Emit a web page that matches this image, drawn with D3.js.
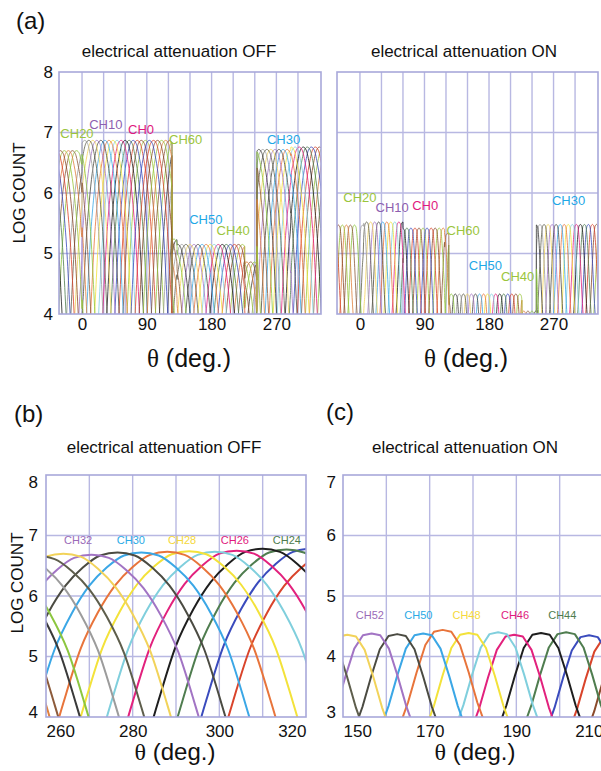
<!DOCTYPE html>
<html>
<head>
<meta charset="utf-8">
<script src="https://cdn.jsdelivr.net/npm/d3@7"></script>
<style>
  body { margin: 0; background: #fff; }
  svg text { font-family: "Liberation Sans", Arial, Helvetica, sans-serif; fill: #111; }
  .grid line { stroke: #b8b8e2; stroke-width: 1.4; }
  .frame { fill: none; stroke: #a8a8da; stroke-width: 1.6; }
</style>
</head>
<body>
<div id="chart"></div>
<script>
// ---------- data ----------
const palette = ['#9bc53d', '#8b4a2b', '#d9442b', '#3a4bbd', '#4f7d4f', '#1e1e1e', '#e2217d', '#80cfdd',
  '#f3e23a', '#e8743b', '#3ba7e6', '#4b4b42', '#a274c4', '#f2d35a', '#5e5e4c', '#9c9c9c',
  '#3a3a3a', '#8cc63f', '#8d5b3b', '#e0803c'];

// panel (a): all channels, theta of peak (CH16 missing)
const aChannels = [0, 1, 2, 3, 4, 5, 6, 7, 8, 9, 10, 11, 12, 13, 14, 15, 17, 18, 19, 20, 21, 22, 23, 24,
  25, 26, 27, 28, 29, 30, 31, 32, 33, 34, 35, 36, 37, 38, 39, 40, 41, 42, 43, 44, 45, 46, 47, 48, 49,
  50, 51, 52, 53, 54, 55, 56, 57, 58, 59, 60, 61, 62, 63];
const aChannelTheta = [88, 82.4, 76.8, 71.1, 65.5, 59.9, 54.3, 48.6, 43, 37.4, 31.8, 26.1, 20.5, 14.9,
  9.3, 3.6, -7.6, -13.3, -18.9, -24.5, -30.1, 324.2, 318.6, 313, 307.4, 301.8, 296.1, 290.5, 284.9,
  279.3, 273.6, 268, 262.4, 256.8, 251.1, 245.5, 239.9, 234.3, 228.6, 223, 217.4, 211.8, 206.1, 200.5,
  194.9, 189.3, 183.6, 178, 172.4, 166.8, 161.1, 155.5, 149.9, 144.3, 138.6, 133, 127.4, 121.8, 116.1,
  110.5, 104.9, 99.3, 93.6];

// peak level seen at each theta range
const offLevelStart = [-40, 0, 125, 132, 226, 243, 290];
const offLevelValue = [6.70, 6.87, 5.24, 5.15, 4.86, 6.72, 6.76];
const onLevelStart = [-40, 5, 60, 118, 124, 226, 246];
const onLevelValue = [5.47, 5.52, 5.42, 5.33, 4.33, 4.05, 5.48];

// fall of a channel response below its peak vs distance from peak (deg)
const offProfileOffset = [0, 4, 8, 12, 16, 20, 24, 28, 32];
const offProfileDrop = [0, 0.05, 0.25, 0.55, 1.0, 1.6, 2.5, 3.5, 4.6];
const onProfileOffset = [0, 2, 4, 6, 8, 10, 12, 14];
const onProfileDrop = [0, 0.03, 0.25, 0.7, 1.2, 1.6, 2.0, 2.4];

const aThetaTicks = [0, 90, 180, 270];
const aThetaGrid = [0, 30, 60, 90, 120, 150, 180, 210, 240, 270, 300];
const aLogTicks = [4, 5, 6, 7, 8];
const aLogGrid = [5, 6, 7];

const aOffLabels = [
  {ch: 'CH20', theta: -7, v: 6.96, color: '#9bc53d'},
  {ch: 'CH10', theta: 33, v: 7.12, color: '#8e5fb0'},
  {ch: 'CH0', theta: 82, v: 7.04, color: '#e0197d'},
  {ch: 'CH60', theta: 144, v: 6.86, color: '#9bc53d'},
  {ch: 'CH50', theta: 172, v: 5.54, color: '#1fa8e6'},
  {ch: 'CH40', theta: 210, v: 5.36, color: '#9bc53d'},
  {ch: 'CH30', theta: 280, v: 6.86, color: '#1fa8e6'}
];
const aOnLabels = [
  {ch: 'CH20', theta: 0, v: 5.90, color: '#9bc53d'},
  {ch: 'CH10', theta: 45, v: 5.75, color: '#8e5fb0'},
  {ch: 'CH0', theta: 91, v: 5.77, color: '#e0197d'},
  {ch: 'CH60', theta: 144, v: 5.36, color: '#9bc53d'},
  {ch: 'CH50', theta: 175, v: 4.79, color: '#1fa8e6'},
  {ch: 'CH40', theta: 220, v: 4.61, color: '#9bc53d'},
  {ch: 'CH30', theta: 291, v: 5.86, color: '#1fa8e6'}
];

// panel (b): OFF, zoom 260-320
const bChannels = [22, 23, 24, 25, 26, 27, 28, 29, 30, 31, 32, 33, 34, 35, 36, 37, 38, 39];
const bTheta = [327, 321, 315.5, 310, 304, 299, 293, 288, 282, 276.5, 270.5, 264, 258, 252, 243, 245, 238, 236];
const bPeak = [6.72, 6.78, 6.77, 6.78, 6.75, 6.73, 6.74, 6.73, 6.72, 6.72, 6.68, 6.70, 6.66, 6.70, 6.70, 6.70, 6.70, 6.70];
const bThetaTicks = [260, 280, 300, 320];
const bThetaGrid = [270, 280, 290, 300, 310];
const bLogTicks = [4, 5, 6, 7, 8];
const bLogGrid = [5, 6, 7];
const bLabels = [
  {ch: 'CH32', theta: 267.4, v: 6.9, color: '#9a6ab8'},
  {ch: 'CH30', theta: 279.6, v: 6.9, color: '#2aaae6'},
  {ch: 'CH28', theta: 291.4, v: 6.9, color: '#f5d83a'},
  {ch: 'CH26', theta: 303.6, v: 6.9, color: '#e0197d'},
  {ch: 'CH24', theta: 315.6, v: 6.9, color: '#4e7c4e'}
];

// panel (c): ON, zoom 150-210
const cChannels = [41, 42, 43, 44, 45, 46, 47, 48, 49, 50, 51, 52, 53, 54];
const cTheta = [216, 212, 206.8, 201.5, 195.7, 189.5, 185.8, 179, 173, 168.5, 162.5, 156.6, 151, 145];
const cPeak = [4.30, 4.33, 4.35, 4.40, 4.39, 4.36, 4.40, 4.39, 4.44, 4.38, 4.37, 4.38, 4.36, 4.35];
const cThetaTicks = [150, 170, 190, 210];
const cThetaGrid = [160, 170, 180, 190, 200];
const cLogTicks = [3, 4, 5, 6, 7];
const cLogGrid = [4, 5, 6];
const cLabels = [
  {ch: 'CH52', theta: 156.2, v: 4.67, color: '#9a6ab8'},
  {ch: 'CH50', theta: 167.4, v: 4.67, color: '#2aaae6'},
  {ch: 'CH48', theta: 178.5, v: 4.67, color: '#f5d83a'},
  {ch: 'CH46', theta: 189.7, v: 4.67, color: '#e0197d'},
  {ch: 'CH44', theta: 200.6, v: 4.67, color: '#4e7c4e'}
];

// ---------- drawing ----------
const svg = d3.select('#chart').append('svg')
  .attr('width', 601)
  .attr('height', 771);

let panel = (o) => {
  let x = d3.scaleLinear().domain(o.xDomain).range([o.left, o.left + o.width]);
  let y = d3.scaleLinear().domain(o.yDomain).range([o.top + o.height, o.top]);

  let grid = svg.append('g').classed('grid', true);
  grid.selectAll('line.gx').data(o.xGrid).enter().append('line')
    .attr('x1', d => x(d)).attr('x2', d => x(d))
    .attr('y1', o.top).attr('y2', o.top + o.height);
  grid.selectAll('line.gy').data(o.yGrid).enter().append('line')
    .attr('y1', d => y(d)).attr('y2', d => y(d))
    .attr('x1', o.left).attr('x2', o.left + o.width);

  svg.append('clipPath').attr('id', o.id)
    .append('rect')
      .attr('x', o.left).attr('y', o.top)
      .attr('width', o.width).attr('height', o.height);

  let plot = svg.append('g').attr('clip-path', `url(#${o.id})`);

  let xAxis = svg.append('g')
    .attr('transform', `translate(0, ${o.top + o.height + 1})`)
    .call(d3.axisBottom(x).tickValues(o.xTicks).tickSize(0).tickPadding(o.xPad).tickFormat(d3.format('d')))
    .attr('font-size', 17)
    .attr('font-family', '"Liberation Sans", Arial, sans-serif');
  xAxis.select('.domain').remove();

  let yAxis = null;
  if (o.yTicks) {
    yAxis = svg.append('g')
      .attr('transform', `translate(${o.left}, 0)`)
      .call(d3.axisLeft(y).tickValues(o.yTicks).tickSize(0).tickPadding(o.yPad).tickFormat(d3.format('d')))
      .attr('font-size', 17)
      .attr('font-family', '"Liberation Sans", Arial, sans-serif');
    yAxis.select('.domain').remove();
  }

  svg.append('rect').classed('frame', true)
    .attr('x', o.left).attr('y', o.top)
    .attr('width', o.width).attr('height', o.height);

  return {x, y, plot, xAxis, yAxis};
}

let stepLevel = (starts, values) => t => {
  let i = d3.bisectRight(starts, t) - 1;
  return values[Math.max(i, 0)];
}

// curve of one channel, peak level taken from a step function of theta
let channelCurve = (center, offsets, drops, level, steps) => {
  let drop = d3.scaleLinear().domain(offsets).range(drops);
  let maxOff = d3.max(offsets);
  let thetas = [];
  offsets.forEach(d => { thetas.push(center - d, center + d); });
  steps.forEach(b => {
    if (b > center - maxOff && b < center + maxOff) thetas.push(b - 0.05, b + 0.05);
  });
  thetas = Array.from(new Set(thetas)).sort((a, b) => a - b);
  return thetas.map(t => [t, level(t) - drop(Math.abs(t - center))]);
}

let drawOverview = (o, starts, values, offsets, drops, labels) => {
  let p = panel(o);
  let level = stepLevel(starts, values);
  let line = d3.line().x(d => p.x(d[0])).y(d => p.y(d[1])).curve(d3.curveMonotoneX);

  let curves = [];
  aChannels.forEach((ch, i) => {
    [-360, 0, 360].forEach(shift => {
      let c = aChannelTheta[i] + shift;
      if (c < o.xDomain[0] - 40 || c > o.xDomain[1] + 40) return;
      curves.push({ch, pts: channelCurve(c, offsets, drops, level, starts)});
    });
  });

  p.plot.selectAll('path.ch').data(curves).enter().append('path')
    .classed('ch', true)
    .attr('d', d => line(d.pts))
    .attr('fill', 'none')
    .attr('stroke', d => palette[d.ch % 20])
    .attr('stroke-width', 1)
    .attr('stroke-opacity', 0.8);

  svg.selectAll(null).data(labels).enter().append('text')
    .attr('x', d => p.x(d.theta))
    .attr('y', d => p.y(d.v))
    .attr('text-anchor', 'middle')
    .attr('dominant-baseline', 'middle')
    .attr('font-size', 13)
    .style('fill', d => d.color)
    .text(d => d.ch);
  return p;
}

let drawZoom = (o, channels, thetas, peaks, offsets, drops, labels, curve) => {
  let p = panel(o);
  let drop = d3.scaleLinear().domain(offsets).range(drops);
  let line = d3.line().x(d => p.x(d[0])).y(d => p.y(d[1])).curve(curve);

  let curves = channels.map((ch, i) => {
    let pts = [];
    offsets.slice().reverse().forEach(d => pts.push([thetas[i] - d, peaks[i] - drop(d)]));
    offsets.slice(1).forEach(d => pts.push([thetas[i] + d, peaks[i] - drop(d)]));
    return {ch, pts};
  });

  p.plot.selectAll('path.ch').data(curves).enter().append('path')
    .classed('ch', true)
    .attr('d', d => line(d.pts))
    .attr('fill', 'none')
    .attr('stroke', d => palette[d.ch % 20])
    .attr('stroke-width', 2)
    .attr('stroke-linejoin', 'round');

  p.plot.selectAll('text.lab').data(labels).enter().append('text')
    .classed('lab', true)
    .attr('x', d => p.x(d.theta))
    .attr('y', d => p.y(d.v))
    .attr('text-anchor', 'middle')
    .attr('dominant-baseline', 'middle')
    .attr('font-size', 11)
    .style('fill', d => d.color)
    .text(d => d.ch);

  // end labels sit inside the frame
  let ticks = p.xAxis.selectAll('.tick text');
  ticks.filter((d, i) => i === 0).attr('text-anchor', 'start').attr('dx', -p.x(o.xTicks[0]) + o.left);
  ticks.filter((d, i) => i === o.xTicks.length - 1).attr('text-anchor', 'end');
  let yt = p.yAxis.selectAll('.tick text');
  yt.filter(d => d === o.yDomain[1]).attr('dy', '0.72em');
  yt.filter(d => d === o.yDomain[0]).attr('dy', '0.05em');
  return p;
}

// panel (a)
drawOverview({id: 'clipA1', left: 59, top: 72, width: 262, height: 242,
  xDomain: [-32, 332], yDomain: [4, 8], xGrid: aThetaGrid, yGrid: aLogGrid,
  xTicks: aThetaTicks, yTicks: aLogTicks, yPad: 6, xPad: 3},
  offLevelStart, offLevelValue, offProfileOffset, offProfileDrop, aOffLabels);

drawOverview({id: 'clipA2', left: 337, top: 72, width: 261, height: 242,
  xDomain: [-32, 332], yDomain: [4, 8], xGrid: aThetaGrid, yGrid: aLogGrid,
  xTicks: aThetaTicks, yTicks: null, xPad: 3},
  onLevelStart, onLevelValue, onProfileOffset, onProfileDrop, aOnLabels);

// panel (b)
drawZoom({id: 'clipB', left: 46, top: 475, width: 260, height: 242,
  xDomain: [260, 320], yDomain: [4, 8], xGrid: bThetaGrid, yGrid: bLogGrid,
  xTicks: bThetaTicks, yTicks: bLogTicks, yPad: 8, xPad: 7},
  bChannels, bTheta, bPeak, offProfileOffset, offProfileDrop, bLabels, d3.curveMonotoneX);

// panel (c)
drawZoom({id: 'clipC', left: 343, top: 475, width: 260, height: 242,
  xDomain: [150, 210], yDomain: [3, 7], xGrid: cThetaGrid, yGrid: cLogGrid,
  xTicks: cThetaTicks, yTicks: cLogTicks, yPad: 7, xPad: 7},
  cChannels, cTheta, cPeak, onProfileOffset, onProfileDrop, cLabels, d3.curveLinear);

// titles and axis names
let texts = [
  {t: '(a)', x: 16, y: 29, size: 24, anchor: 'start'},
  {t: 'electrical attenuation OFF', x: 179, y: 57, size: 17, anchor: 'middle'},
  {t: 'electrical attenuation ON', x: 464, y: 57, size: 17, anchor: 'middle'},
  {t: '(b)', x: 14, y: 422, size: 24, anchor: 'start'},
  {t: 'electrical attenuation OFF', x: 164, y: 453, size: 17, anchor: 'middle'},
  {t: '(c)', x: 326, y: 420, size: 24, anchor: 'start'},
  {t: 'electrical attenuation ON', x: 465, y: 453, size: 17, anchor: 'middle'}
];
svg.selectAll(null).data(texts).enter().append('text')
  .attr('x', d => d.x).attr('y', d => d.y)
  .attr('font-size', d => d.size)
  .attr('text-anchor', d => d.anchor)
  .text(d => d.t);

[[25, 193], [23, 583]].forEach(p => {
  svg.append('text')
    .attr('transform', `translate(${p[0]}, ${p[1]}) rotate(-90)`)
    .attr('text-anchor', 'middle')
    .attr('font-size', 17)
    .text('LOG COUNT');
});

[[189, 367, 25], [466, 367, 25], [175, 760, 24], [475, 760, 24]].forEach(p => {
  let t = svg.append('text')
    .attr('x', p[0]).attr('y', p[1])
    .attr('text-anchor', 'middle')
    .attr('font-size', p[2]);
  t.append('tspan').attr('font-family', '"Liberation Serif", "Times New Roman", serif').text('θ');
  t.append('tspan').text(' (deg.)');
});
</script>
</body>
</html>
